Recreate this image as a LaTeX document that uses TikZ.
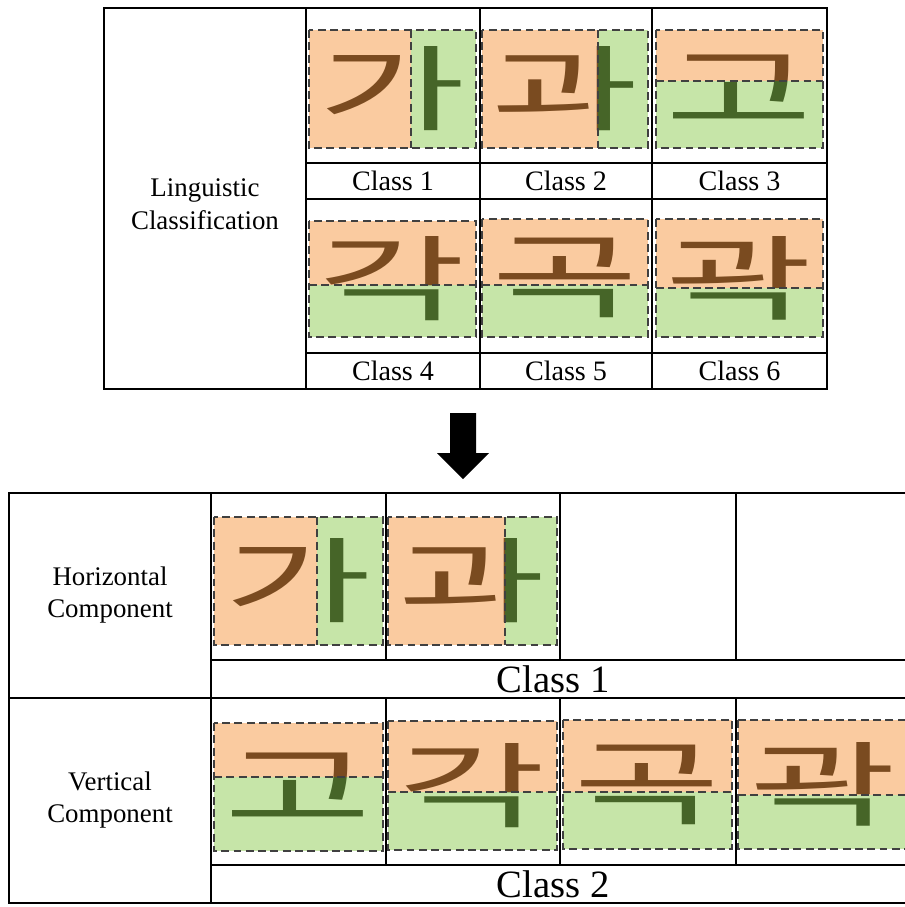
\documentclass[tikz,border=0pt]{standalone}
\usepackage{fontspec}
\setmainfont{Liberation Serif}
\newfontfamily\krfont{Noto Sans CJK KR}
\usetikzlibrary{positioning}
\definecolor{partA}{RGB}{245,151,65}
\definecolor{partB}{RGB}{141,203,81}
\tikzset{
	grid line/.style={line width=1.1pt},
	part box/.style={draw=black!75, dash pattern=on 4.5pt off 2.5pt, line width=1pt},
	jamo/.style={inner sep=0pt, font=\krfont\fontsize{53}{53}\selectfont, xscale=1.72},
	cls/.style={inner sep=0pt, font=\fontsize{16}{19}\selectfont, align=center},
	rowhead/.style={inner sep=0pt, font=\fontsize{15.3}{18.5}\selectfont, align=center},
	bigcls/.style={inner sep=0pt, font=\fontsize{22}{24}\selectfont},
}
\newcommand{\lrcell}[7]{%
	\node[jamo] (#1) at ({(#2+#4)/2},{(#3+#5)/2}) {#7};
	\fill[partA, opacity=0.5] (#2,#3) rectangle (#6,#5);
	\fill[partB, opacity=0.5] (#6,#3) rectangle (#4,#5);
	\draw[part box] (#2,#3) rectangle (#4,#5) (#6,#3) -- (#6,#5);
}
\newcommand{\tbcell}[7]{%
	\node[jamo] (#1) at ({(#2+#4)/2},{(#3+#5)/2}) {#7};
	\fill[partA, opacity=0.5] (#2,#3) rectangle (#4,#6);
	\fill[partB, opacity=0.5] (#2,#6) rectangle (#4,#5);
	\draw[part box] (#2,#3) rectangle (#4,#5) (#2,#6) -- (#4,#6);
}
\begin{document}
\begin{tikzpicture}[x=0.02cm, y=-0.02cm]
		\useasboundingbox (0,0) rectangle (904,907);
		% linguistic classification table
		\draw [grid line] (104,8) rectangle (827,389);
		\draw [grid line] (306,8) -- (306,389);
		\draw [grid line] (480,8) -- (480,389);
		\draw [grid line] (652,8) -- (652,389);
		\draw [grid line] (306,163) -- (827,163);
		\draw [grid line] (306,199) -- (827,199);
		\draw [grid line] (306,353) -- (827,353);
		\node [rowhead] (ling) at (205,204) {Linguistic\\Classification};
		\lrcell{ga}{309}{30}{476}{148}{411}{가}
		\lrcell{gwa}{482}{30}{648}{148}{598}{과}
		\tbcell{go}{656}{30}{823}{148}{81}{고}
		\tbcell{gak}{309}{221}{476}{337}{285}{각}
		\tbcell{gok}{482}{219}{648}{337}{285}{곡}
		\tbcell{gwak}{656}{219}{823}{337}{288}{곽}
		\node [cls] (c1) at (393,181) {Class 1};
		\node [cls] (c2) at (566,181) {Class 2};
		\node [cls] (c3) at (739.5,181) {Class 3};
		\node [cls] (c4) at (393,371) {Class 4};
		\node [cls] (c5) at (566,371) {Class 5};
		\node [cls] (c6) at (739.5,371) {Class 6};
		\fill (450,413) -- (476,413) -- (476,453) -- (489,453) -- (463,479) -- (437,453) -- (450,453) -- cycle;
		% component table
		\draw [grid line] (910,493) -- (9,493) -- (9,903) -- (910,903);
		\draw [grid line] (9,698) -- (910,698);
		\draw [grid line] (211,493) -- (211,903);
		\draw [grid line] (211,660) -- (910,660);
		\draw [grid line] (211,865) -- (910,865);
		\draw [grid line] (386,493) -- (386,660) (386,698) -- (386,865);
		\draw [grid line] (560,493) -- (560,660) (560,698) -- (560,865);
		\draw [grid line] (736,493) -- (736,660) (736,698) -- (736,865);
		\node [rowhead] (horiz) at (110,595) {Horizontal\\Component};
		\node [rowhead] (vert) at (110,800) {Vertical\\Component};
		\lrcell{hga}{214}{517}{383}{645}{317}{가}
		\lrcell{hgwa}{388}{517}{557}{645}{505}{과}
		\tbcell{vgo}{214}{723}{383}{851}{777}{고}
		\tbcell{vgak}{388}{721}{557}{850}{792}{각}
		\tbcell{vgok}{563}{720}{732}{849}{792}{곡}
		\tbcell{vgwak}{738}{720}{908}{849}{795}{곽}
		\node [bigcls] (hcls) at (553,679) {Class 1};
		\node [bigcls] (vcls) at (553,884) {Class 2};
\end{tikzpicture}
\end{document}
